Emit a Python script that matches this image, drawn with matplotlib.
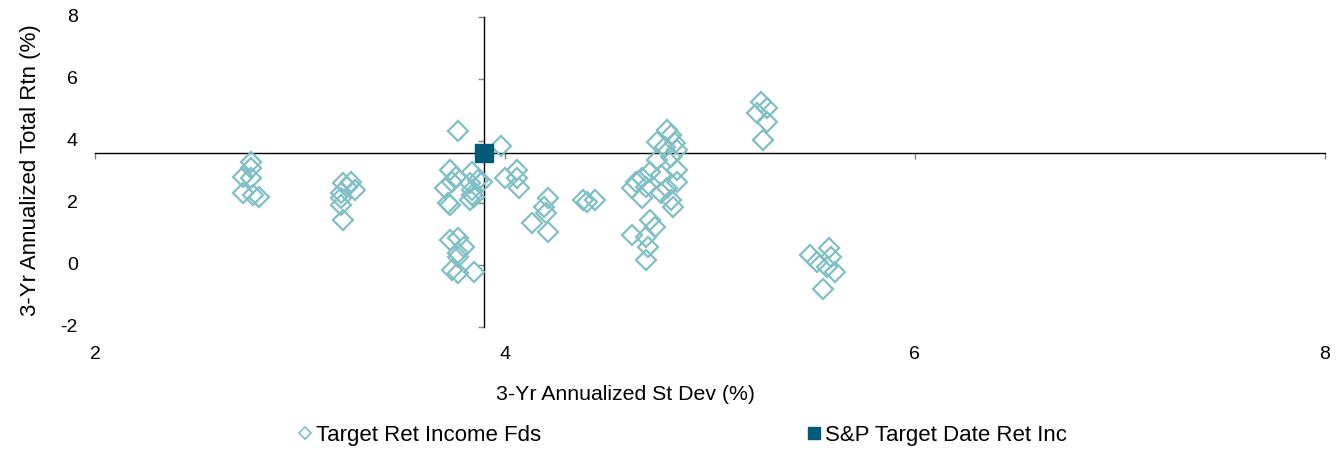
import matplotlib.pyplot as plt
from matplotlib.lines import Line2D

plt.rcParams['font.family'] = ['Liberation Sans', 'DejaVu Sans']

# fund universe: 3-yr st dev (%) and 3-yr return (%)
fund_sd = [
    2.76, 2.76, 2.72, 2.76, 2.72, 2.77, 2.80,
    3.21, 3.25, 3.23, 3.20, 3.20, 3.27, 3.20, 3.21,
    3.77, 3.98, 3.73, 3.76, 3.84, 3.71, 3.74, 3.83, 3.87, 3.89,
    3.84, 3.84, 3.72, 3.73, 3.83, 3.85,
    4.00, 4.06, 4.06, 4.07, 4.21, 4.19, 4.20, 4.13, 4.21,
    3.73, 3.77, 3.80, 3.77, 3.77, 3.74, 3.77, 3.85,
    4.38, 4.40, 4.44,
    4.79, 4.81, 4.74, 4.83, 4.78, 4.84, 4.74, 4.81, 4.84, 4.71, 4.76,
    4.67, 4.84, 4.64, 4.62, 4.69, 4.79, 4.76, 4.67, 4.81, 4.82,
    4.71, 4.73, 4.62, 4.69, 4.70, 4.69,
    5.25, 5.28, 5.23, 5.28, 5.26,
    5.49, 5.58, 5.59, 5.52, 5.57, 5.61, 5.55,
]
fund_ret = [
    3.32, 3.13, 2.84, 2.81, 2.32, 2.26, 2.19,
    2.65, 2.68, 2.52, 2.32, 2.16, 2.42, 1.94, 1.45,
    4.32, 3.84, 3.06, 2.84, 3.00, 2.48, 2.68, 2.65, 2.74, 2.68,
    2.42, 2.26, 2.00, 1.94, 2.10, 2.19,
    2.81, 3.06, 2.81, 2.48, 2.16, 1.87, 1.68, 1.35, 1.06,
    0.81, 0.87, 0.58, 0.39, 0.26, -0.16, -0.26, -0.23,
    2.10, 2.03, 2.10,
    4.35, 4.19, 3.97, 3.94, 3.81, 3.71, 3.39, 3.48, 3.06, 3.00, 2.90,
    2.81, 2.68, 2.68, 2.48, 2.52, 2.48, 2.32, 2.16, 2.10, 1.87,
    1.45, 1.23, 0.97, 0.90, 0.58, 0.16,
    5.26, 5.06, 4.90, 4.61, 4.03,
    0.32, 0.55, 0.26, 0.10, -0.06, -0.23, -0.76,
]

# benchmark
bench_sd = [3.90]
bench_ret = [3.61]

x_ticks = [2, 4, 6, 8]
y_ticks = [-2, 0, 2, 4, 6, 8]

fund_color = '#80C0C5'
bench_color = '#005A78'

fig = plt.figure(figsize=(13.41, 4.5), dpi=100)
ax = fig.add_axes([0.0708, 0.2733, 0.9172, 0.6889])

ax.plot(fund_sd, fund_ret, linestyle='none', marker='D', markersize=10.5,
        markerfacecolor='none', markeredgecolor=fund_color, markeredgewidth=1.6,
        zorder=3)
ax.plot(bench_sd, bench_ret, linestyle='none', marker='s', markersize=13.5,
        color=bench_color, zorder=4)

ax.set_xlim(2, 8)
ax.set_ylim(-2, 8)

# axes cross at the benchmark
ax.spines['left'].set_position(('data', bench_sd[0]))
ax.spines['bottom'].set_position(('data', bench_ret[0]))
ax.spines['right'].set_visible(False)
ax.spines['top'].set_visible(False)
for s in ['left', 'bottom']:
    ax.spines[s].set_color('black')
    ax.spines[s].set_linewidth(1.0)
    ax.spines[s].set_zorder(2)

ax.set_xticks(x_ticks)
ax.set_yticks(y_ticks)
ax.tick_params(axis='both', direction='out', length=4.5, width=1,
               color='#808080', labelbottom=False, labelleft=False)

# labels sit at the low end of the axes
for v in x_ticks:
    ax.text(v, -0.06, str(v), transform=ax.get_xaxis_transform(),
            ha='center', va='top', fontsize=14)
for v in y_ticks:
    ax.text(-0.014, v, str(v), transform=ax.get_yaxis_transform(),
            ha='right', va='center', fontsize=14)

fig.text(626 / 1341, 1 - 395 / 450, '3-Yr Annualized St Dev (%)',
         ha='center', va='center', fontsize=15.3)
fig.text(31 / 1341, 1 - 170 / 450, '3-Yr Annualized Total Rtn (%)',
         ha='center', va='center', rotation=90, fontsize=16)

handles = [
    Line2D([], [], linestyle='none', marker='D', markersize=6,
           markerfacecolor='none', markeredgecolor=fund_color, markeredgewidth=1.2),
    Line2D([], [], linestyle='none', marker='s', markersize=9, color=bench_color),
]
fig.legend(handles, ['Target Ret Income Fds', 'S&P Target Date Ret Inc'],
           loc='center left', bbox_to_anchor=(298 / 1341, 1 - 435 / 450),
           ncol=2, frameon=False, fontsize=16, handlelength=0.6,
           handletextpad=0.2, columnspacing=12.0, borderpad=0, borderaxespad=0)

fig.savefig('out.png', dpi=100)
